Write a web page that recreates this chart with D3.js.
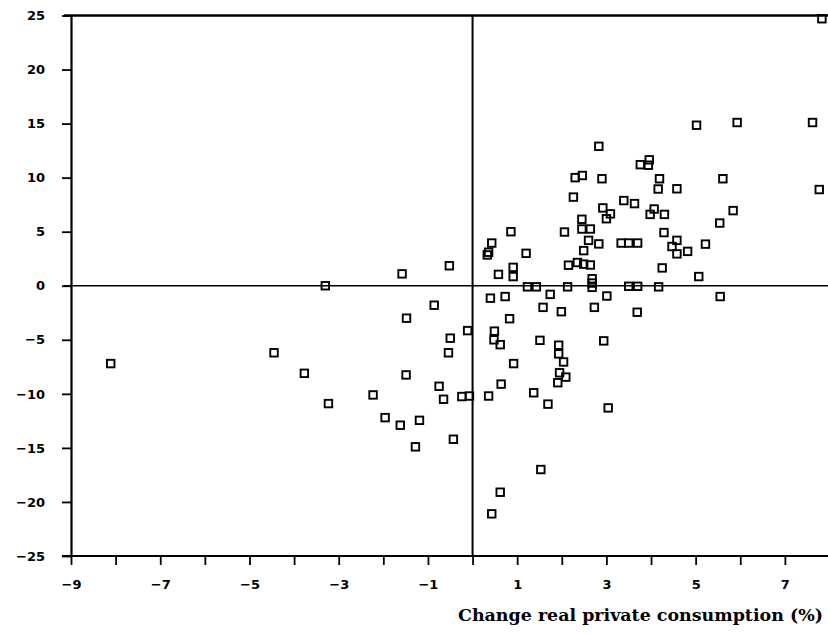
<!DOCTYPE html>
<html>
<head>
<meta charset="utf-8">
<script src="https://cdn.jsdelivr.net/npm/d3@7"></script>
<style>
  html, body { margin: 0; padding: 0; background: #fff; }
  svg { display: block; }
</style>
</head>
<body>
<svg id="chart" width="828" height="635"></svg>
<script>
// Change in real private consumption (%)
const consumptionChange = [
  -8.11, -4.45, -3.77, -3.30, -3.23, -2.23, -1.96, -1.62, -1.58, -1.48, -1.49, -1.28, -1.19,
  -0.86, -0.75, -0.65, -0.52, -0.50, -0.54, -0.43, -0.24, -0.07, -0.11,
  0.33, 0.36, 0.43, 0.86, 1.20, 0.58, 0.91, 0.91, 1.23, 1.43, 0.40, 0.73, 0.83,
  0.49, 0.48, 0.62, 0.92, 0.64, 0.36, 1.37, 1.69, 1.53, 0.62, 0.43,
  1.74, 1.58, 1.99, 1.51, 1.93, 1.93, 2.04, 1.95, 2.09, 1.91, 2.94, 3.04,
  2.13, 2.68, 2.68, 2.68, 3.01, 2.73, 3.50, 3.70, 3.69, 4.17, 5.55, 5.07, 4.25,
  2.15, 2.35, 2.49, 2.64, 2.49, 2.60, 2.83, 3.33, 3.50, 3.70,
  4.58, 4.47, 4.58, 4.82, 5.22, 4.29, 2.06, 2.45, 2.64, 2.45, 5.54, 5.84,
  2.92, 3.09, 3.00, 4.07, 3.98, 4.30, 3.39, 3.63, 2.26, 2.30, 2.46, 2.90,
  4.19, 4.16, 4.58, 5.61, 7.77, 2.83, 3.76, 3.96, 3.94, 5.02, 5.93, 7.62, 7.83
];
// Second variable (%)
const otherChange = [
  -7.2, -6.2, -8.1, 0.0, -10.9, -10.1, -12.2, -12.9, 1.1, -3.0, -8.25, -14.9, -12.45,
  -1.8, -9.3, -10.5, 1.85, -4.85, -6.2, -14.2, -10.25, -10.2, -4.15,
  2.85, 3.1, 3.95, 5.0, 3.0, 1.05, 1.7, 0.85, -0.1, -0.1, -1.15, -1.0, -3.05,
  -4.2, -5.0, -5.45, -7.2, -9.1, -10.2, -9.9, -10.95, -17.0, -19.1, -21.1,
  -0.8, -2.0, -2.4, -5.05, -5.5, -6.3, -7.05, -8.05, -8.45, -8.97, -5.1, -11.3,
  -0.1, 0.65, 0.25, -0.15, -0.95, -2.0, -0.05, -0.05, -2.45, -0.1, -1.0, 0.85, 1.65,
  1.9, 2.15, 2.0, 1.92, 3.25, 4.2, 3.87, 3.95, 3.95, 3.95,
  4.2, 3.63, 2.95, 3.18, 3.85, 4.92, 4.97, 5.25, 5.25, 6.15, 5.8, 6.95,
  7.2, 6.65, 6.2, 7.1, 6.6, 6.6, 7.88, 7.6, 8.2, 10.0, 10.2, 9.9,
  9.9, 8.95, 8.97, 9.9, 8.9, 12.9, 11.2, 11.65, 11.15, 14.85, 15.1, 15.1, 24.7
];
const xTickValues = [-9, -8, -7, -6, -5, -4, -3, -2, -1, 0, 1, 2, 3, 4, 5, 6, 7];
const xLabelValues = [-9, -7, -5, -3, -1, 1, 3, 5, 7];
const yTickValues = [-25, -20, -15, -10, -5, 0, 5, 10, 15, 20, 25];
const xTitle = "Change real private consumption (%)";

const points = consumptionChange.map((x, i) => ({ x, y: otherChange[i] }));

const svg = d3.select("#chart");
const x = d3.scaleLinear().domain([-9, 8]).range([71, 829.5]);
const y = d3.scaleLinear().domain([-25, 25]).range([556, 15.5]);
const fmt = v => (v < 0 ? "\u2212" + Math.abs(v) : String(v));
const labelFont = "'DejaVu Sans', sans-serif";

// Left axis
const yAxis = svg.append("g")
  .attr("transform", `translate(${x(-9)},0)`)
  .call(d3.axisLeft(y).tickValues(yTickValues).tickSize(9).tickSizeOuter(0).tickPadding(17).tickFormat(fmt));
yAxis.select(".domain").attr("stroke", "#000").attr("stroke-width", 2.2);
yAxis.selectAll(".tick line").attr("stroke", "#000").attr("stroke-width", 1.8);
yAxis.selectAll(".tick text")
  .attr("fill", "#000")
  .style("font-family", labelFont)
  .style("font-weight", "bold")
  .style("font-size", "13px");

// Bottom axis
const xAxis = svg.append("g")
  .attr("transform", `translate(0,${y(-25)})`)
  .call(d3.axisBottom(x).tickValues(xTickValues).tickSize(9).tickSizeOuter(0)
    .tickFormat(v => xLabelValues.includes(v) ? fmt(v) : ""));
xAxis.select(".domain").attr("stroke", "#000").attr("stroke-width", 2.2)
  .attr("d", `M${x(-9) - 9},0H828`);
xAxis.selectAll(".tick line").attr("stroke", "#000").attr("stroke-width", 1.8);
xAxis.selectAll(".tick text")
  .attr("y", 24)
  .attr("fill", "#000")
  .style("font-family", labelFont)
  .style("font-weight", "bold")
  .style("font-size", "13px");

// Top border
svg.append("line")
  .attr("x1", x(-9) - 7).attr("x2", 828)
  .attr("y1", y(25)).attr("y2", y(25))
  .attr("stroke", "#000").attr("stroke-width", 2.6);

// Zero lines
svg.append("line")
  .attr("x1", x(0)).attr("x2", x(0))
  .attr("y1", y(25)).attr("y2", y(-25))
  .attr("stroke", "#000").attr("stroke-width", 2);
svg.append("line")
  .attr("x1", x(-9) - 7).attr("x2", 828)
  .attr("y1", y(0)).attr("y2", y(0))
  .attr("stroke", "#000").attr("stroke-width", 1.5);

// Points
const s = 7.5;
svg.append("g")
  .selectAll("rect")
  .data(points)
  .join("rect")
  .attr("x", d => x(d.x) - s / 2)
  .attr("y", d => y(d.y) - s / 2)
  .attr("width", s)
  .attr("height", s)
  .attr("fill", "none")
  .attr("stroke", "#000")
  .attr("stroke-width", 1.9);

// X title
svg.append("text")
  .attr("x", 458)
  .attr("y", 621)
  .attr("textLength", 365)
  .attr("lengthAdjust", "spacingAndGlyphs")
  .style("font-family", "'DejaVu Serif', serif")
  .style("font-weight", "bold")
  .style("font-size", "17px")
  .attr("fill", "#000")
  .text(xTitle);
</script>
</body>
</html>
